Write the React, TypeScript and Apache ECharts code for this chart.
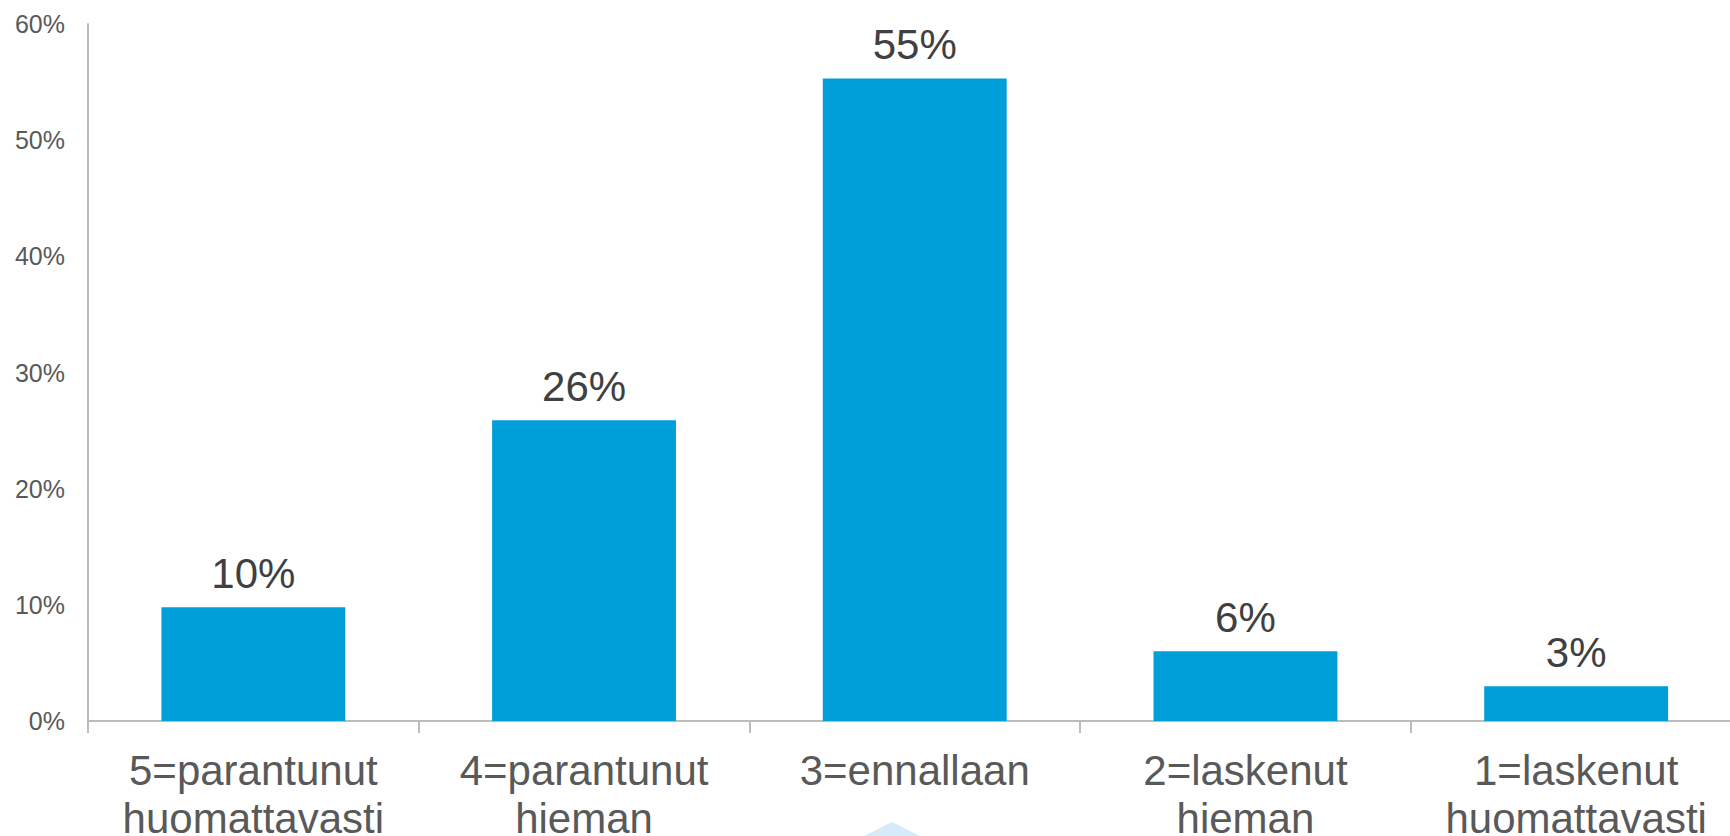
import React, { useEffect, useRef } from "react";
import * as echarts from "echarts";

const categories = [
  "5=parantunut\nhuomattavasti",
  "4=parantunut\nhieman",
  "3=ennallaan",
  "2=laskenut\nhieman",
  "1=laskenut\nhuomattavasti",
];
const values = [9.8, 25.9, 55.3, 6.0, 3.0];
const yTicks = { min: 0, max: 60, interval: 10 };

const FONT = "'Liberation Sans', Arial, Helvetica, sans-serif";

export default function App() {
  const ref = useRef<HTMLDivElement>(null);
  useEffect(() => {
    document.body.style.margin = "0";
    document.body.style.overflow = "hidden";
    document.documentElement.style.overflow = "hidden";
    if (!ref.current) return;
    const chart = echarts.init(ref.current, null, { renderer: "svg", width: 1730, height: 836 });
    chart.setOption({
      animation: false,
      backgroundColor: "#ffffff",
      grid: {
        left: 88,
        right: -11.5,
        top: 24,
        bottom: 115,
        containLabel: false,
        outerBoundsMode: "none",
      },
      xAxis: {
        type: "category",
        data: categories,
        axisLine: { show: true, lineStyle: { color: "#bcbcbc", width: 2 } },
        axisTick: { show: true, alignWithLabel: false, length: 12, lineStyle: { color: "#bcbcbc", width: 2 } },
        axisLabel: {
          color: "#595959",
          fontFamily: FONT,
          fontSize: 42,
          lineHeight: 48,
          margin: 25,
          interval: 0,
        },
      },
      yAxis: {
        type: "value",
        min: yTicks.min,
        max: yTicks.max,
        interval: yTicks.interval,
        splitLine: { show: false },
        axisLine: { show: true, lineStyle: { color: "#bcbcbc", width: 2 } },
        axisTick: { show: false },
        axisLabel: {
          formatter: "{value}%",
          color: "#595959",
          fontFamily: FONT,
          fontSize: 25,
          margin: 23,
        },
      },
      series: [
        {
          type: "bar",
          data: values,
          barWidth: "55.6%",
          itemStyle: { color: "#009FDA" },
          label: {
            show: true,
            position: "top",
            distance: 13,
            color: "#404040",
            fontFamily: FONT,
            fontSize: 42,
            lineHeight: 42,
            formatter: (p: any) => Math.round(p.value) + "%",
          },
        },
      ],
      graphic: [
        {
          type: "polygon",
          shape: { points: [[892, 822], [856, 840], [928, 840]] },
          style: { fill: "#d6ebf8" },
          silent: true,
        },
      ],
    });
    return () => chart.dispose();
  }, []);
  return (
    <div
      ref={ref}
      style={{ position: "fixed", left: 0, top: 0, width: 1730, height: 836, overflow: "hidden" }}
    />
  );
}
